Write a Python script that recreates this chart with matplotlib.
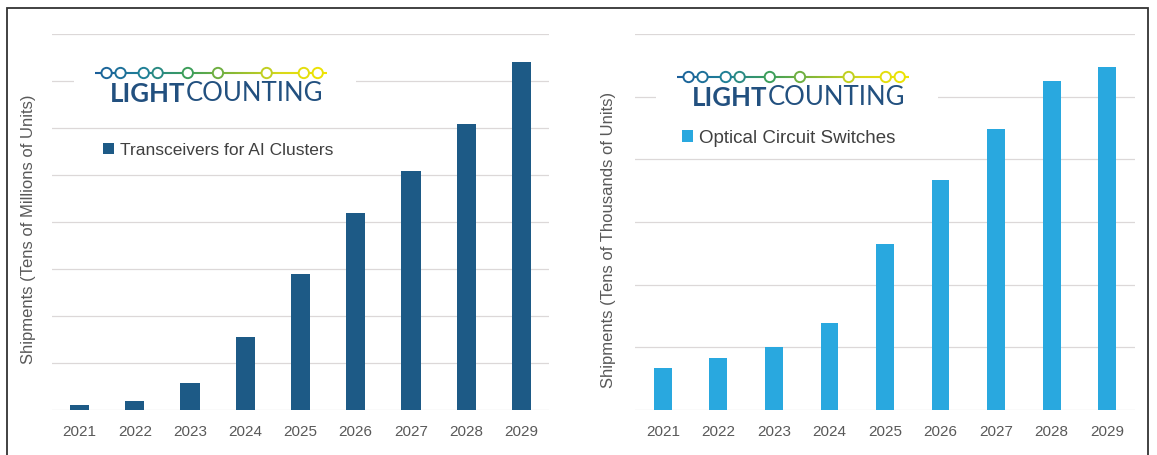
import matplotlib
matplotlib.use("Agg")
import matplotlib.pyplot as plt
import numpy as np
from matplotlib.collections import LineCollection
from matplotlib.colors import LinearSegmentedColormap
from matplotlib.patches import Rectangle

years = ["2021", "2022", "2023", "2024", "2025", "2026", "2027", "2028", "2029"]

# left panel, in grid units (8 gridlines)
transceivers = [0.10, 0.19, 0.57, 1.55, 2.90, 4.20, 5.08, 6.08, 7.40]
# right panel, in grid units (6 gridlines)
ocs = [0.67, 0.83, 1.00, 1.39, 2.65, 3.67, 4.48, 5.25, 5.47]

W, H = 1157, 455
DARK = "#1d5a86"
LIGHT = "#29a8df"

plt.rcParams["font.family"] = ["Liberation Sans", "DejaVu Sans"]

fig = plt.figure(figsize=(W / 100, H / 100), dpi=100)

logo_cmap = LinearSegmentedColormap.from_list(
    "lc", ["#1b5e9a", "#1f7f98", "#3d9e5a", "#8ab934", "#d8d81a", "#f0e400"])
# circle positions along the logo line (fraction of length)
dots = [0.05, 0.11, 0.21, 0.27, 0.40, 0.53, 0.74, 0.90, 0.96]


def px_rect(x0, y0, x1, y1):
    # pixel box (top-left origin) -> figure fraction rect
    return [x0 / W, 1 - y1 / H, (x1 - x0) / W, (y1 - y0) / H]


def draw_logo(x0, y0):
    lax = fig.add_axes(px_rect(x0, y0, x0 + 282, y0 + 80))
    lax.set_xlim(0, 282)
    lax.set_ylim(80, 0)
    lax.set_facecolor("white")
    lax.set_xticks([])
    lax.set_yticks([])
    for s in lax.spines.values():
        s.set_visible(False)
    lx0, lx1, ly = 21, 253, 33
    xs = np.linspace(lx0, lx1, 200)
    segs = [[(xs[i], ly), (xs[i + 1], ly)] for i in range(len(xs) - 1)]
    lc = LineCollection(segs, colors=logo_cmap(np.linspace(0, 1, len(segs))), linewidths=1.5)
    lax.add_collection(lc)
    dx = [lx0 + f * (lx1 - lx0) for f in dots]
    lax.scatter(dx, [ly] * len(dx), s=55, facecolor="white",
                edgecolor=logo_cmap(np.array(dots)), linewidths=1.4, zorder=3)
    t1 = lax.text(36, 62, "LIGHT", fontsize=18.5, fontweight="bold", color="#22507f",
                  family=["Lato", "DejaVu Sans"], va="baseline", ha="left")
    lax.annotate("COUNTING", xy=(1, 0), xycoords=t1, va="bottom", ha="left",
                 fontsize=18.5, color="#22507f", family=["Lato", "DejaVu Sans"])


def draw_panel(rect, values, color, ymax, ylabel, label, lab_xy, leg_xy, leg_fs, width):
    ax = fig.add_axes(rect)
    x = np.arange(len(years))
    ax.bar(x, values, width=width, color=color, label=label, zorder=3)
    ax.set_xlim(-0.5, len(years) - 0.5)
    ax.set_ylim(0, ymax)
    ax.set_yticks(np.arange(0, ymax + 1))
    ax.set_yticklabels([])
    ax.set_xticks(x)
    ax.set_xticklabels(years)
    ax.tick_params(axis="x", length=0, pad=11, labelsize=11, labelcolor="#595959")
    ax.tick_params(axis="y", length=0)
    ax.grid(axis="y", color="#dcd8d8", linewidth=0.9)
    ax.set_axisbelow(True)
    for s in ax.spines.values():
        s.set_visible(False)
    ax.set_ylabel(ylabel, fontsize=12, color="#595959", va="center")
    ax.yaxis.set_label_coords(*lab_xy)
    ax.legend(loc="center left", bbox_to_anchor=leg_xy, frameon=False,
              handlelength=0.6, handleheight=0.6, handletextpad=0.35,
              borderpad=0, borderaxespad=0, fontsize=leg_fs, labelcolor="#404040")
    return ax


draw_panel(px_rect(52, 34, 549, 410), transceivers, DARK, 8,
           "Shipments (Tens of Millions of Units)", "Transceivers for AI Clusters",
           (-0.048, 0.48), (0.103, 0.691), 12.5, 0.35)
draw_panel(px_rect(635, 34, 1135, 410), ocs, LIGHT, 6,
           "Shipments (Tens of Thousands of Units)", "Optical Circuit Switches",
           (-0.052, 0.452), (0.093, 0.723), 13.5, 0.32)

draw_logo(74, 40)
draw_logo(656, 44)

# outer frame of the figure
fig.add_artist(Rectangle((7 / W, -0.1), (1148 - 7) / W, 1 - 8 / H + 0.1,
                         transform=fig.transFigure, fill=False,
                         edgecolor="#333333", linewidth=1.3))

fig.savefig("out.png", dpi=100, facecolor="white")
